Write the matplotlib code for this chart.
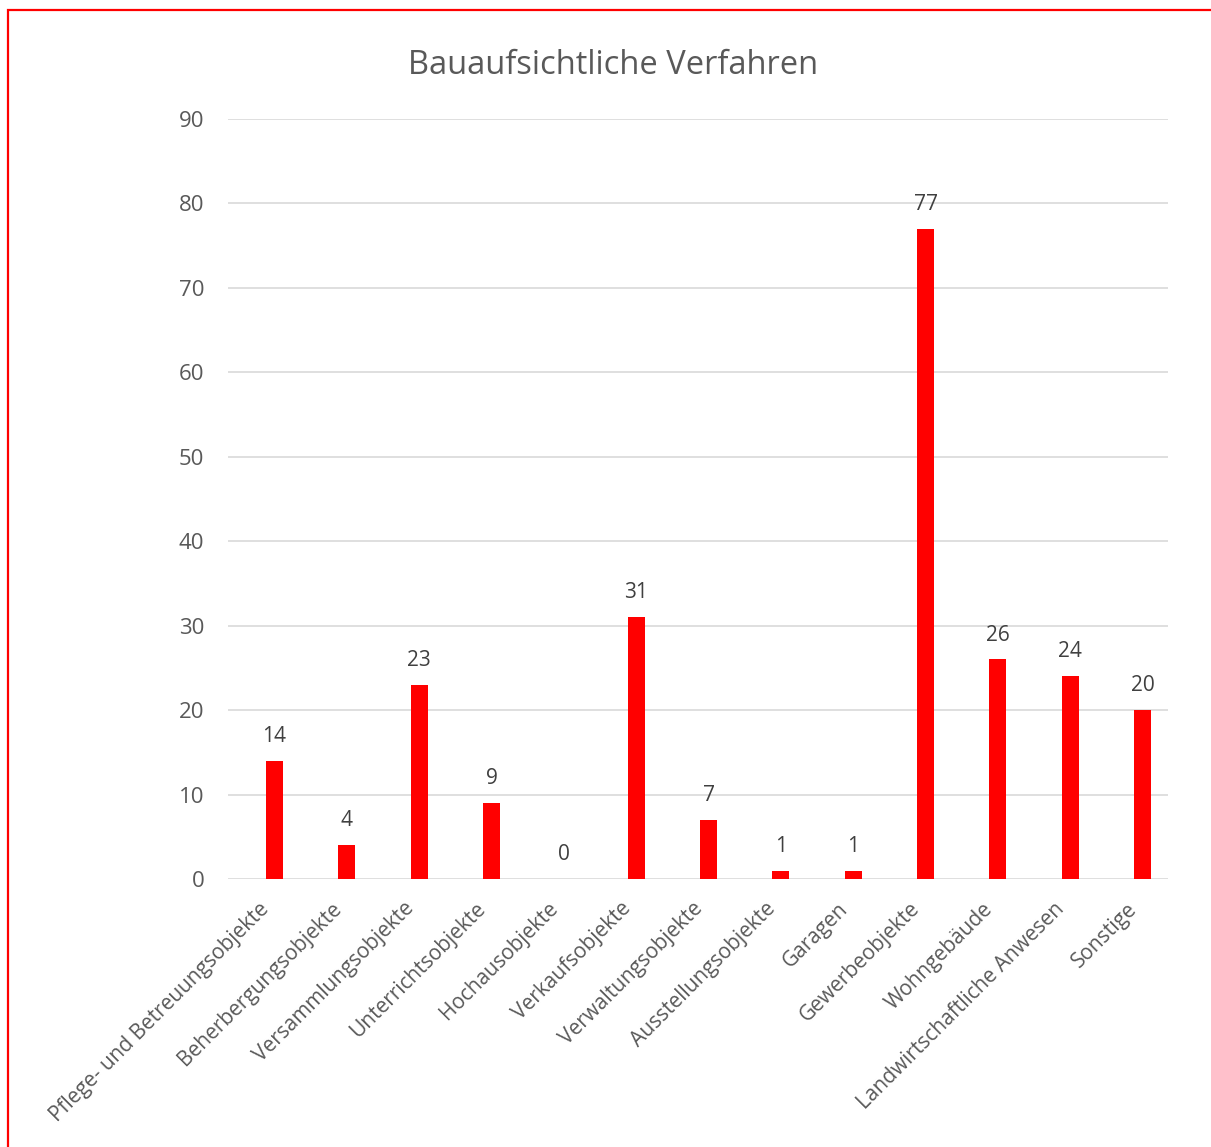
import matplotlib
matplotlib.use("Agg")
import matplotlib.pyplot as plt
import numpy as np
from matplotlib.patches import Rectangle
from matplotlib.transforms import ScaledTranslation

# data
categories = [
    "Pflege- und Betreuungsobjekte", "Beherbergungsobjekte", "Versammlungsobjekte",
    "Unterrichtsobjekte", "Hochausobjekte", "Verkaufsobjekte", "Verwaltungsobjekte",
    "Ausstellungsobjekte", "Garagen", "Gewerbeobjekte", "Wohngebäude",
    "Landwirtschaftliche Anwesen", "Sonstige",
]
counts = [14, 4, 23, 9, 0, 31, 7, 1, 1, 77, 26, 24, 20]
y_ticks = list(range(0, 91, 10))

plt.rcParams["font.family"] = ["Open Sans", "DejaVu Sans"]
text_grey = "#595959"

fig = plt.figure(figsize=(12.11, 11.47), dpi=100)
ax = fig.add_axes([0.1883, 0.2337, 0.7762, 0.6626])

x = np.arange(len(categories))
bars = ax.bar(x, counts, width=0.235, color="#ff0000", zorder=3)

for xi, v in zip(x, counts):
    ax.annotate(str(v), (xi, v), xytext=(0, 10), textcoords="offset points",
                ha="center", va="bottom", fontsize=15, color="#404040")

ax.set_xlim(-0.642, 12.352)
ax.set_ylim(0, 90)
ax.set_yticks(y_ticks)
ax.set_yticklabels([str(t) for t in y_ticks], fontsize=16, color=text_grey)
ax.tick_params(axis="y", length=0, pad=17)
ax.tick_params(axis="x", length=0, pad=6)
ax.set_xticks(x)
ax.set_xticklabels(categories, rotation=45, ha="right", va="top",
                   rotation_mode="anchor", fontsize=15, color=text_grey)
# move the slanted labels down and to the left of their ticks
shift = ScaledTranslation(-0.16, -0.11, fig.dpi_scale_trans)
for lbl in ax.get_xticklabels():
    lbl.set_transform(lbl.get_transform() + shift)

ax.grid(axis="y", color="#d9d9d9", linewidth=1.2, zorder=0)
for s in ax.spines.values():
    s.set_visible(False)

fig.text(0.5066, 1 - 66 / 1147, "Bauaufsichtliche Verfahren", ha="center",
         va="center", fontsize=23.5, color=text_grey)

# chart frame, running off the right and bottom edges
frame = Rectangle((7.5 / 1211, -0.1), 1.2, 1.1 - 9.5 / 1147, transform=fig.transFigure,
                  fill=False, edgecolor="#ff0000", linewidth=1.6, clip_on=False)
fig.patches.append(frame)

fig.savefig("out.png", dpi=100, facecolor="white")
